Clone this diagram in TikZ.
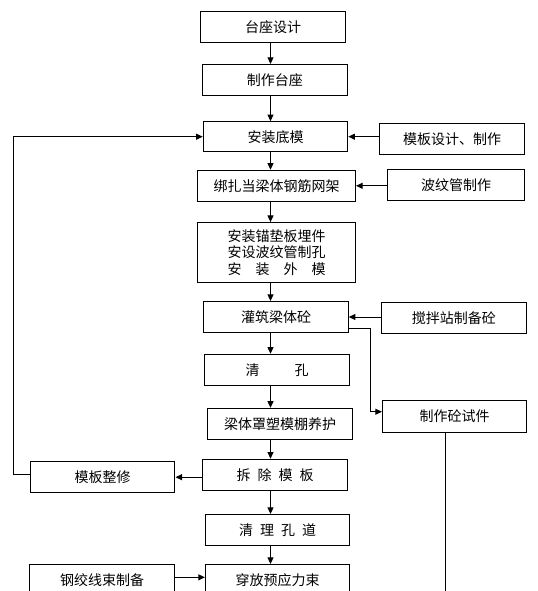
\documentclass[tikz,border=0pt]{standalone}
\usepackage{fontspec}
\setmainfont{Noto Sans CJK SC}
\usetikzlibrary{arrows.meta}

\begin{document}
\begin{tikzpicture}[x=0.75pt,y=0.75pt,yscale=-1,xscale=1,
  box/.style={draw,line width=0.75pt,minimum width=108.4pt,minimum height=23.25pt,inner sep=0pt,
    font=\fontsize{10.5pt}{12.5pt}\selectfont,align=center},
  arr/.style={line width=0.75pt,-{Triangle[length=5pt,width=4.5pt]}},
  link/.style={line width=0.75pt}]
%set diagram size 537 x 591
\useasboundingbox (0,0) rectangle (537,591);
\clip (0,0) rectangle (537,591);

%Main column
\node[box] (tzsj) at (273.2,27.5) {台座设计};
\node[box] (zztz) at (274.8,80) {制作台座};
\node[box,minimum height=22.5pt] (azdm) at (275.5,136.7) {安装底模};
\node[box,minimum width=118.5pt] (bzgj) at (276.5,185.8) {绑扎当梁体钢筋网架};
\node[box,minimum width=118.5pt,minimum height=45pt] (azmj) at (276.5,252.6) {安装锚垫板埋件\\安设波纹管制孔\\安\quad 装\quad 外\quad 模};
\node[box] (gzlt) at (276,317) {灌筑梁体砼};
\node[box] (qk) at (277.2,369.8) {清\hspace{2.5em}孔};
\node[box] (yh) at (280.2,423.8) {梁体罩塑模棚养护};
\node[box] (ccmb) at (275,474.7) {拆\hspace{0.5em}除\hspace{0.5em}模\hspace{0.5em}板};
\node[box] (qlkd) at (277.5,530) {清\hspace{0.5em}理\hspace{0.5em}孔\hspace{0.5em}道};
\node[box] (cfyl) at (277.7,580) {穿放预应力束};

%Side boxes
\node[box] (mbsj) at (452,138.8) {模板设计、制作};
\node[box,minimum width=102.75pt] (bwgz) at (456,185.3) {波纹管制作};
\node[box] (jbz) at (453.8,317.8) {搅拌站制备砼};
\node[box,minimum height=24pt] (zsj) at (454.7,416) {制作砼试件};
\node[box] (mbzx) at (102.7,477.2) {模板整修};
\node[box] (gjx) at (102,580) {钢绞线束制备};

%Helper coordinates
\coordinate (spine) at (270.5,0);
\coordinate (back) at (13.3,0);
\coordinate (kink) at (370.7,0);
\coordinate (zsjend) at (445.7,600);
\coordinate (gzout) at ([yshift=8.5pt]gzlt.east);
\coordinate (zsjin) at ([yshift=-3.2pt]zsj.west);

%Arrows down the main column
\foreach \a/\b in {tzsj/zztz,zztz/azdm,azdm/bzgj,bzgj/azmj,azmj/gzlt,gzlt/qk,qk/yh,yh/ccmb,ccmb/qlkd,qlkd/cfyl}
  \draw[arr] (\a.south -| spine) -- (\b.north -| spine);

%Arrows from the side
\draw[arr] (mbsj.west |- azdm.east) -- (azdm.east);
\draw[arr] (bwgz.west |- bzgj.east) -- (bzgj.east);
\draw[arr] (jbz.west |- gzlt.east) -- (gzlt.east);
\draw[arr] (ccmb.west |- mbzx.east) -- (mbzx.east);
\draw[arr] ([yshift=-2pt]gjx.east) -- ([yshift=-2pt]cfyl.west);

%Formwork loop back
\draw[arr] ([yshift=-2pt]mbzx.west) -| (back |- azdm.west) -- (azdm.west);

%Test specimens
\draw[arr] (gzout) -| (kink |- zsjin) -- (zsjin);
\draw[link] (zsjend |- zsj.south) -- (zsjend);

\end{tikzpicture}
\end{document}
